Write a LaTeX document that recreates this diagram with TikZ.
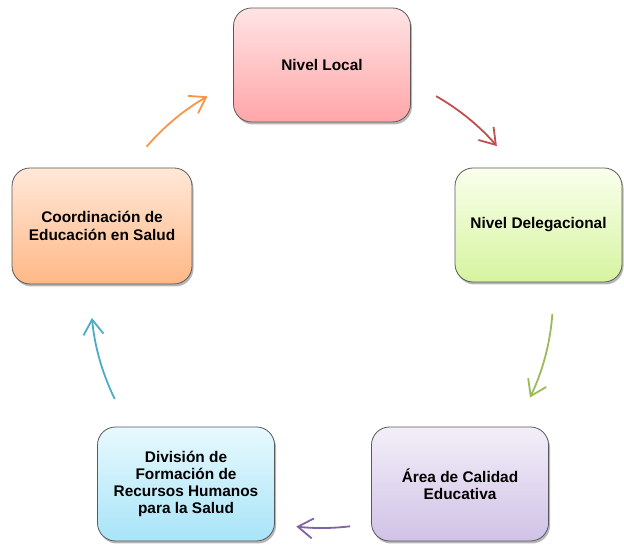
\documentclass[tikz,border=0pt]{standalone}
\usepackage{fontspec}
\setmainfont{Liberation Sans}
\usetikzlibrary{arrows.meta,shadows,positioning}

\definecolor{localline}{HTML}{C0504D}
\definecolor{delegline}{HTML}{9BBB59}
\definecolor{arealine}{HTML}{8064A2}
\definecolor{divline}{HTML}{4BACC6}
\definecolor{coordline}{HTML}{F79646}

\begin{document}
\begin{tikzpicture}
      [x=1pt, y=1pt,
       stage/.style={draw=black!65, line width=0.8pt, rounded corners=18pt,
         minimum width=177pt, minimum height=114pt, align=center,
         font=\fontsize{15.4}{17.2}\selectfont\bfseries,
         drop shadow={shadow xshift=1.5pt, shadow yshift=-2.5pt, opacity=0.4, fill=black!70}},
       cycle/.style={line width=1.8pt, -{Straight Barb[length=15pt,width=20pt]}}]
      \useasboundingbox (0,0) rectangle (624,546);

      \node [stage, top color={rgb,255:red,255;green,228;blue,229}, bottom color={rgb,255:red,255;green,166;blue,168}]
            (local) at (322,481) {Nivel Local};
      \node [stage, minimum width=167pt, top color={rgb,255:red,250;green,255;blue,236}, bottom color={rgb,255:red,214;green,244;blue,160}]
            (deleg) at (538.5,321) {Nivel Delegacional};
      \node [stage, top color={rgb,255:red,243;green,239;blue,248}, bottom color={rgb,255:red,208;green,194;blue,231}]
            (area) at (460,62) {Área de Calidad\\Educativa};
      \node [stage, top color={rgb,255:red,232;green,249;blue,254}, bottom color={rgb,255:red,168;green,228;blue,248}]
            (division) at (186,62) {División de\\Formación de\\Recursos Humanos\\para la Salud};
      \node [stage, minimum width=180pt, minimum height=116pt, top color={rgb,255:red,255;green,232;blue,216}, bottom color={rgb,255:red,255;green,184;blue,134}]
            (coord) at (102,320) {Coordinación de\\Educación en Salud};

      % arrows lie on the circle through the box centres
      \coordinate (hub) at (322,249);
      \draw [cycle, localline] ([shift={(60.4:231)}]hub) arc [start angle=60.4, end angle=40.8, radius=231];
      \draw [cycle, delegline] ([shift={(-4.2:231)}]hub) arc [start angle=-4.2, end angle=-25.8, radius=231];
      \draw [cycle, arealine] ([shift={(-83:231)}]hub) arc [start angle=-83, end angle=-96.4, radius=231];
      \draw [cycle, divline] ([shift={(206.2:231)}]hub) arc [start angle=206.2, end angle=185.2, radius=231];
      \draw [cycle, coordline] ([shift={(139.4:231)}]hub) arc [start angle=139.4, end angle=119.7, radius=231];
\end{tikzpicture}
\end{document}
